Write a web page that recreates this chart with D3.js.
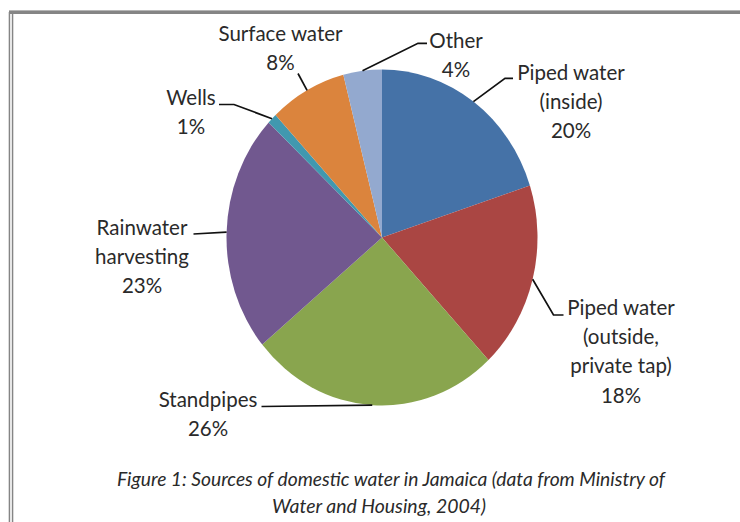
<!DOCTYPE html>
<html>
<head>
<meta charset="utf-8">
<script src="https://cdn.jsdelivr.net/npm/d3@7/dist/d3.min.js"></script>
<style>
  html, body { margin: 0; padding: 0; background: #fff; }
  svg { display: block; }
</style>
</head>
<body>
<svg id="chart" width="740" height="522"></svg>
<script>
// ---- data ----
const categories = ["Piped water (inside)", "Piped water (outside, private tap)", "Standpipes",
                    "Rainwater harvesting", "Wells", "Surface water", "Other"];
const values = [20, 18, 26, 23, 1, 8, 4];
const labelLines = [["Piped water", "(inside)"], ["Piped water", "(outside,", "private tap)"],
                    ["Standpipes"], ["Rainwater", "harvesting"], ["Wells"], ["Surface water"], ["Other"]];
const colors = ["#4572A7", "#AA4643", "#89A54E", "#71588F", "#4198AF", "#DB843D", "#93A9CF"];
const captionLines = ["Figure 1: Sources of domestic water in Jamaica (data from Ministry of",
                      "Water and Housing, 2004)"];

// ---- layout ----
const cx = 382, cy = 237.5, rx = 155.5, ry = 168;
const lineH = 29.2;
// label block: first-line centre x & baseline, leader elbow & end
const labelLayout = [
  { x: 571, y: 79.5, elbow: [505, 78.3], end: [513, 78.3] },
  { x: 621, y: 315, elbow: [553.5, 315], end: [563.5, 315] },
  { x: 208, y: 406.5, elbow: null, end: [261.5, 406.5] },
  { x: 142, y: 235, elbow: null, end: [193.5, 234] },
  { x: 191, y: 105, elbow: [234, 104.5], end: [219, 104.5] },
  { x: 280.5, y: 40.7, elbow: null, end: [298, 73.5] },
  { x: 456, y: 48, elbow: [418, 43.3], end: [427, 43.3] }
];

const svg = d3.select("#chart");

// frame
const frameColor = "#858585";
svg.append("rect").attr("x", 9).attr("y", 10.4).attr("width", 731).attr("height", 3.6).attr("fill", frameColor);
svg.append("rect").attr("x", 8.7).attr("y", 12).attr("width", 1.5).attr("height", 510).attr("fill", frameColor);
svg.append("rect").attr("x", 11.8).attr("y", 14).attr("width", 1.5).attr("height", 508).attr("fill", frameColor);

const data = values.map((v, i) => ({ cat: categories[i], value: v, lines: labelLines[i], color: colors[i], lay: labelLayout[i] }));
const total = d3.sum(values);
const pie = d3.pie().value(d => d.value).sort(null).startAngle(0).endAngle(2 * Math.PI);
const arcs = pie(data);
const arc = d3.arc().innerRadius(0).outerRadius(ry);

svg.append("g")
  .attr("transform", `translate(${cx},${cy}) scale(${rx / ry},1)`)
  .selectAll("path").data(arcs).join("path")
  .attr("d", arc)
  .attr("fill", d => d.data.color);

// leaders
const pct = d3.format(".0%");
svg.append("g").selectAll("polyline").data(arcs).join("polyline")
  .attr("fill", "none").attr("stroke", "#111").attr("stroke-width", 1.7)
  .attr("points", d => {
    const a = (d.startAngle + d.endAngle) / 2;
    const p0 = [cx + rx * Math.sin(a), cy - ry * Math.cos(a)];
    const L = d.data.lay;
    const pts = [p0];
    if (L.elbow) pts.push(L.elbow);
    pts.push(L.end);
    return pts.map(p => p.join(",")).join(" ");
  });

// labels
const lab = svg.append("g")
  .attr("font-family", "Lato, 'Open Sans', sans-serif")
  .attr("font-weight", 400)
  .attr("font-size", 20.5)
  .attr("fill", "#2a2a2a")
  .attr("text-anchor", "middle");
arcs.forEach(d => {
  const L = d.data.lay;
  const lines = d.data.lines.concat([pct(d.data.value / total)]);
  const t = lab.append("text").attr("x", L.x).attr("y", L.y);
  lines.forEach((s, i) => {
    t.append("tspan").attr("x", L.x).attr("dy", i === 0 ? 0 : lineH).text(s);
  });
});

// caption
const cap = svg.append("g")
  .attr("font-family", "Lato, 'Open Sans', sans-serif")
  .attr("font-style", "italic")
  .attr("font-weight", 400)
  .attr("font-size", 20)
  .attr("fill", "#2a2a2a")
  .attr("text-anchor", "middle");
const capLayout = [{ x: 391, y: 486, w: 548 }, { x: 379, y: 512.5, w: 214 }];
captionLines.forEach((s, i) => {
  cap.append("text").attr("x", capLayout[i].x).attr("y", capLayout[i].y)
    .attr("textLength", capLayout[i].w).attr("lengthAdjust", "spacingAndGlyphs")
    .text(s);
});
</script>
</body>
</html>
